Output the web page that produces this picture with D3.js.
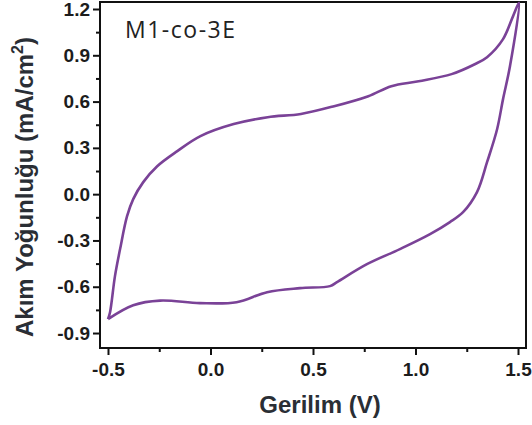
<!DOCTYPE html>
<html>
<head>
<meta charset="utf-8">
<script src="https://cdn.jsdelivr.net/npm/d3@7"></script>
<style>
  body { margin: 0; background: #fff; }
  svg { display: block; }
  .tick text { font-family: "Liberation Sans", Arial, sans-serif; font-weight: bold; font-size: 19px; fill: #1c1c1c; }
</style>
</head>
<body>
<svg width="532" height="425"></svg>
<script>
// anodic (upper) branch, -0.5 V -> 1.5 V
const fwdV = [-0.5, -0.49, -0.466, -0.441, -0.407, -0.377, -0.328, -0.26, -0.162, -0.049, 0.113, 0.279, 0.441, 0.603, 0.77, 0.882, 1.015, 1.176, 1.289, 1.349, 1.427, 1.476, 1.505]
const fwdI = [-0.81, -0.765, -0.531, -0.356, -0.143, -0.032, 0.078, 0.181, 0.279, 0.376, 0.454, 0.499, 0.520, 0.570, 0.635, 0.70, 0.732, 0.778, 0.842, 0.888, 1.005, 1.154, 1.24]
// cathodic (lower) branch, 1.5 V -> -0.5 V
const revV = [1.505, 1.461, 1.427, 1.398, 1.349, 1.30, 1.232, 1.168, 1.071, 0.924, 0.763, 0.617, 0.583, 0.437, 0.276, 0.127, -0.052, -0.246, -0.377, -0.5]
const revI = [1.24, 0.83, 0.616, 0.421, 0.207, 0.013, -0.117, -0.181, -0.259, -0.356, -0.454, -0.570, -0.596, -0.609, -0.635, -0.70, -0.706, -0.690, -0.72, -0.81]

const xMajor = [-0.5, 0.0, 0.5, 1.0, 1.5]
const xMinor = [-0.25, 0.25, 0.75, 1.25]
const yMajor = [-0.9, -0.6, -0.3, 0.0, 0.3, 0.6, 0.9, 1.2]
const yMinor = [-0.75, -0.45, -0.15, 0.15, 0.45, 0.75, 1.05]

const svg = d3.select("svg")
const m = { left: 100, right: 526, top: 2, bottom: 348 }

const x = d3.scaleLinear().domain([-0.539, 1.539]).range([m.left, m.right])
const y = d3.scaleLinear().domain([-0.997, 1.2454]).range([m.bottom, m.top])

// plain hyphen for negatives, like the original
const fmt = d => d.toFixed(1)

// minor ticks
svg.append("g")
    .attr("transform", `translate(0,${m.bottom})`)
    .call(d3.axisBottom(x).tickValues(xMinor).tickSize(4).tickFormat(""))
    .call(g => g.select(".domain").remove())
svg.append("g")
    .attr("transform", `translate(${m.left},0)`)
    .call(d3.axisLeft(y).tickValues(yMinor).tickSize(4).tickFormat(""))
    .call(g => g.select(".domain").remove())

// major ticks
svg.append("g")
    .attr("transform", `translate(0,${m.bottom})`)
    .call(d3.axisBottom(x).tickValues(xMajor).tickSize(7).tickPadding(8).tickFormat(fmt))
    .call(g => g.select(".domain").remove())
svg.append("g")
    .attr("transform", `translate(${m.left},0)`)
    .call(d3.axisLeft(y).tickValues(yMajor).tickSize(7).tickPadding(3).tickFormat(fmt))
    .call(g => g.select(".domain").remove())

svg.selectAll(".tick line").attr("stroke", "#111").attr("stroke-width", 2)

// frame
svg.append("rect")
    .attr("x", m.left).attr("y", m.top)
    .attr("width", m.right - m.left).attr("height", m.bottom - m.top)
    .attr("fill", "none").attr("stroke", "#111").attr("stroke-width", 2)

// CV loop
const pts = fwdV.map((v, i) => [v, fwdI[i]]).concat(revV.slice(1).map((v, i) => [v, revI[i + 1]]))
const line = d3.line()
    .x(d => x(d[0]))
    .y(d => y(d[1]))
    .curve(d3.curveCatmullRom.alpha(0.5))

svg.append("path")
    .datum(pts)
    .attr("d", line)
    .attr("fill", "none")
    .attr("stroke", "#7a4297")
    .attr("stroke-width", 2.6)
    .attr("stroke-linejoin", "round")

// labels
svg.append("text")
    .attr("x", 125).attr("y", 38)
    .attr("font-family", "'Open Sans', sans-serif")
    .attr("font-size", 23)
    .attr("textLength", 110)
    .attr("fill", "#222")
    .text("M1-co-3E")

svg.append("text")
    .attr("x", 320).attr("y", 413)
    .attr("text-anchor", "middle")
    .attr("font-family", "'Liberation Sans', Arial, sans-serif")
    .attr("font-weight", "bold")
    .attr("font-size", 24)
    .attr("fill", "#2a2e35")
    .text("Gerilim (V)")

const yl = svg.append("text")
    .attr("transform", "translate(33,187) rotate(-90)")
    .attr("text-anchor", "middle")
    .attr("font-family", "'Liberation Sans', Arial, sans-serif")
    .attr("font-weight", "bold")
    .attr("font-size", 24)
    .attr("fill", "#2a2e35")
yl.append("tspan").text("Akım Yoğunluğu (mA/cm")
yl.append("tspan").attr("font-size", 16).attr("dy", -10).text("2")
yl.append("tspan").attr("dy", 10).text(")")
</script>
</body>
</html>
